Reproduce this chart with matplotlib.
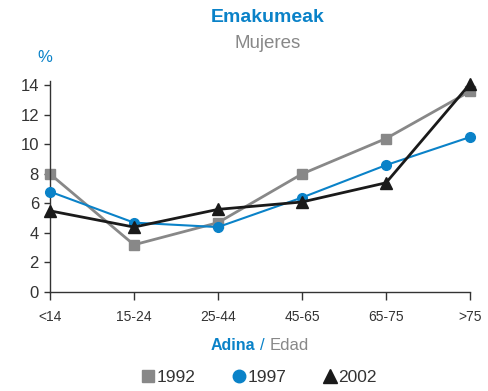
import matplotlib
matplotlib.use("Agg")
import matplotlib.pyplot as plt
from matplotlib.lines import Line2D

ages = ["<14", "15-24", "25-44", "45-65", "65-75", ">75"]
y1992 = [8.0, 3.2, 4.7, 8.0, 10.4, 13.6]
y1997 = [6.8, 4.7, 4.4, 6.4, 8.6, 10.5]
y2002 = [5.5, 4.4, 5.6, 6.1, 7.4, 14.1]
yticks = [0, 2, 4, 6, 8, 10, 12, 14]

BLUE = "#0a82c8"
GRAY = "#888888"
BLACK = "#1a1a1a"
TXT = "#333333"

plt.rcParams["font.family"] = ["Liberation Sans", "DejaVu Sans"]

fig = plt.figure(figsize=(4.88, 3.91), dpi=100)
ax = fig.add_axes([50 / 488, 1 - 292 / 391, 420 / 488, 211 / 391])

x = list(range(len(ages)))
ax.plot(x, y1992, color=GRAY, lw=2.0, marker="s", ms=7, label="1992",
        zorder=2, clip_on=False)
ax.plot(x, y1997, color=BLUE, lw=1.5, marker="o", ms=7, label="1997",
        zorder=3, clip_on=False)
ax.plot(x, y2002, color=BLACK, lw=2.0, marker="^", ms=8, label="2002",
        zorder=4, clip_on=False)

ax.set_xlim(0, 5)
ax.set_ylim(0, 14.3)
ax.set_yticks(yticks)
ax.set_yticklabels([str(v) for v in yticks], fontsize=12, color=TXT)
ax.set_xticks(x)
ax.set_xticklabels(ages, fontsize=10, color=TXT)
ax.tick_params(axis="y", length=4, width=1, color=TXT, pad=4)
ax.tick_params(axis="x", length=6, width=1, color=TXT, pad=7, direction="out")
for s in ("top", "right"):
    ax.spines[s].set_visible(False)
for s in ("left", "bottom"):
    ax.spines[s].set_color(TXT)
    ax.spines[s].set_linewidth(1)
ax.patch.set_alpha(0)

fig.text(268 / 488, 1 - 17 / 391, "Emakumeak", ha="center", va="center",
         fontsize=14, fontweight="bold", color=BLUE)
fig.text(268 / 488, 1 - 43 / 391, "Mujeres", ha="center", va="center",
         fontsize=13.5, color=GRAY)
fig.text(45 / 488, 1 - 57 / 391, "%", ha="center", va="center",
         fontsize=12, color=BLUE)

ylab = 1 - 345 / 391
fig.text(255 / 488, ylab, "Adina", ha="right", va="center",
         fontsize=11.5, fontweight="bold", color=BLUE)
fig.text(262 / 488, ylab, "/", ha="center", va="center",
         fontsize=12, color=BLUE)
fig.text(270 / 488, ylab, "Edad", ha="left", va="center",
         fontsize=12, color=GRAY)

handles = [
    Line2D([], [], ls="none", marker="s", ms=8, color=GRAY),
    Line2D([], [], ls="none", marker="o", ms=9, color=BLUE),
    Line2D([], [], ls="none", marker="^", ms=10, color=BLACK),
]
fig.legend(handles, ["1992", "1997", "2002"], loc="center",
           bbox_to_anchor=(258 / 488, 1 - 377 / 391), ncol=3, frameon=False,
           fontsize=12.5, handletextpad=0.0, columnspacing=2.0, handlelength=1.0,
           labelcolor=TXT)

fig.savefig("out.png", dpi=100)
